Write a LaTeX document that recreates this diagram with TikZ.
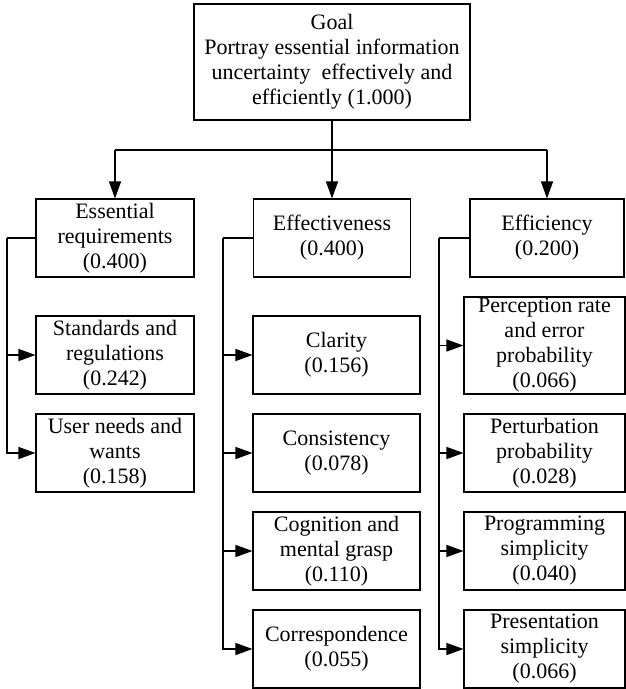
\documentclass[tikz,border=0pt]{standalone}
\usepackage{fontspec}
\setmainfont{Liberation Serif}
\usetikzlibrary{arrows.meta}
\begin{document}
\begin{tikzpicture}[x=1pt,y=-1pt,
  box/.style={draw, line width=1.1pt, align=center, inner sep=0pt,
    font=\fontsize{22}{25}\selectfont},
  link/.style={line width=1.3pt},
  arr/.style={link, -{Triangle[length=17pt,width=12pt]}}]
\useasboundingbox (0,0) rectangle (626,689);

% goal
\node[box, minimum width=276pt, minimum height=116pt] (goal) at (332,62)
  {Goal\\Portray essential information\\uncertainty\ \ effectively and\\efficiently (1.000)};

% criteria
\node[box, minimum width=158pt, minimum height=78pt] (ess) at (115,238)
  {Essential\\requirements\\(0.400)};
\node[box, minimum width=157pt, minimum height=78pt] (effv) at (332,238)
  {Effectiveness\\(0.400)};
\node[box, minimum width=154pt, minimum height=78pt] (effc) at (547,238)
  {Efficiency\\(0.200)};

% essential requirements sub-criteria
\node[box, minimum width=158pt, minimum height=78pt] (std) at (115,355)
  {Standards and\\regulations\\(0.242)};
\node[box, minimum width=158pt, minimum height=78pt] (user) at (115,453)
  {User needs and\\wants\\(0.158)};

% effectiveness sub-criteria
\node[box, minimum width=167pt, minimum height=78pt] (clar) at (336.5,355)
  {Clarity\\(0.156)};
\node[box, minimum width=167pt, minimum height=78pt] (cons) at (336.5,453)
  {Consistency\\(0.078)};
\node[box, minimum width=167pt, minimum height=78pt] (cogn) at (336.5,551)
  {Cognition and\\mental grasp\\(0.110)};
\node[box, minimum width=167pt, minimum height=78pt] (corr) at (336.5,649)
  {Correspondence\\(0.055)};

% efficiency sub-criteria
\node[box, minimum width=161pt, minimum height=97pt] (perc) at (544.5,345.5)
  {Perception rate\\and error\\probability\\(0.066)};
\node[box, minimum width=161pt, minimum height=78pt] (pert) at (544.5,453)
  {Perturbation\\probability\\(0.028)};
\node[box, minimum width=161pt, minimum height=78pt] (prog) at (544.5,551)
  {Programming\\simplicity\\(0.040)};
\node[box, minimum width=161pt, minimum height=78pt] (pres) at (544.5,649)
  {Presentation\\simplicity\\(0.066)};

% goal to criteria
\coordinate (bus) at (332,150);
\draw[link] (ess.north |- bus) -- (effc.north |- bus);
\draw[arr] (goal.south) -- (effv.north);
\draw[arr] (ess.north |- bus) -- (ess.north);
\draw[arr] (effc.north |- bus) -- (effc.north);

% criteria to sub-criteria
\coordinate (essbus) at (7,238);
\draw[link] (ess.west) -- (essbus);
\draw[arr] (essbus) |- (std.west);
\draw[arr] (essbus) |- (user.west);

\coordinate (effvbus) at (223,238);
\draw[link] (effv.west) -- (effvbus);
\draw[arr] (effvbus) |- (clar.west);
\draw[arr] (effvbus) |- (cons.west);
\draw[arr] (effvbus) |- (cogn.west);
\draw[arr] (effvbus) |- (corr.west);

\coordinate (effcbus) at (439,238);
\draw[link] (effc.west) -- (effcbus);
\draw[arr] (effcbus) |- (perc.west);
\draw[arr] (effcbus) |- (pert.west);
\draw[arr] (effcbus) |- (prog.west);
\draw[arr] (effcbus) |- (pres.west);
\end{tikzpicture}
\end{document}
